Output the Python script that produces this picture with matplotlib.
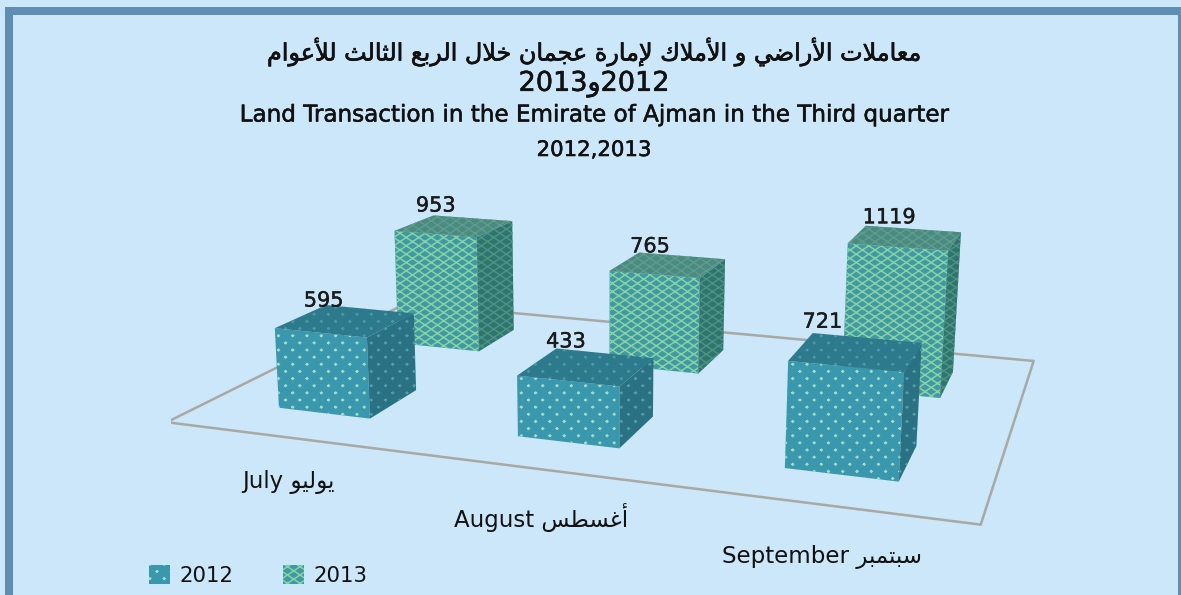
import numpy as np
import matplotlib
matplotlib.use('Agg')
import matplotlib.pyplot as plt
import matplotlib.hatch as mhatch
import matplotlib.patheffects as pe
from matplotlib.patches import Rectangle, Patch
from matplotlib.path import Path
from mpl_toolkits.mplot3d import proj3d
from mpl_toolkits.mplot3d.art3d import Poly3DCollection

W, H = 1181, 595
plt.rcParams['font.family'] = ['DejaVu Sans']

# ---- data ----
months_ar = ['يوليو', 'أغسطس', 'سبتمبر']
months_en = ['July', 'August', 'September']
series = ['2012', '2013']
v2012 = [595, 433, 721]
v2013 = [953, 765, 1119]
title_ar = 'معاملات الأراضي و الأملاك لإمارة عجمان خلال الربع الثالث للأعوام'
title_en = 'Land Transaction in the Emirate of Ajman in the Third quarter'

# ---- Arabic shaping (matplotlib does no shaping or bidi itself) ----
DUAL = {'ئ':0xFE89,'ب':0xFE8F,'ت':0xFE95,'ث':0xFE99,'ج':0xFE9D,'ح':0xFEA1,'خ':0xFEA5,'س':0xFEB1,'ش':0xFEB5,
        'ص':0xFEB9,'ض':0xFEBD,'ط':0xFEC1,'ظ':0xFEC5,'ع':0xFEC9,'غ':0xFECD,'ف':0xFED1,'ق':0xFED5,'ك':0xFED9,
        'ل':0xFEDD,'م':0xFEE1,'ن':0xFEE5,'ه':0xFEE9,'ي':0xFEF1}
RIGHT = {'آ':0xFE81,'أ':0xFE83,'ؤ':0xFE85,'إ':0xFE87,'ا':0xFE8D,'ة':0xFE93,'د':0xFEA9,'ذ':0xFEAB,'ر':0xFEAD,
         'ز':0xFEAF,'و':0xFEED,'ى':0xFEEF}
LAM = {'آ':0xFEF5,'أ':0xFEF7,'إ':0xFEF9,'ا':0xFEFB}

def ar(s):
    out = []; i = 0; prev = False
    while i < len(s):
        c = s[i]
        if c == 'ل' and i + 1 < len(s) and s[i + 1] in LAM:
            out.append(chr(LAM[s[i + 1]] + (1 if prev else 0))); prev = False; i += 2; continue
        nxt = s[i + 1] if i + 1 < len(s) else ' '
        nj = nxt in DUAL or nxt in RIGHT
        if c in DUAL:
            out.append(chr(DUAL[c] + (3 if prev and nj else 1 if prev else 2 if nj else 0))); prev = nj
        elif c in RIGHT:
            out.append(chr(RIGHT[c] + (1 if prev else 0))); prev = False
        else:
            out.append(c); prev = False
        i += 1
    return ''.join(reversed(out))

# ---- squashed hatch patterns of the reference ('o' dots, 'O' diamond lattice) ----
class WideDots(mhatch.HatchPatternBase):
    NX, NY = 7, 14
    R = 0.008
    def __init__(self, hatch, density):
        self.on = hatch.count('o') > 0
        self.pts = []
        if self.on:
            for r in range(self.NY + 1):
                shift = 0.5 if r % 2 else 0.0
                for c in range(-1, self.NX + 1):
                    self.pts.append(((c + shift) / self.NX, r / self.NY))
        self.num_vertices = len(self.pts) * 5
    def set_vertices_and_codes(self, vertices, codes):
        if self.on:
            r = self.R
            k = 0
            for (x, y) in self.pts:
                vertices[k:k + 5] = [(x - r, y), (x, y + r), (x + r, y), (x, y - r), (x - r, y)]
                codes[k:k + 5] = [Path.MOVETO, Path.LINETO, Path.LINETO, Path.LINETO, Path.LINETO]
                k += 5

class Lattice(mhatch.HatchPatternBase):
    NX, NY = 8, 12
    def __init__(self, hatch, density):
        self.on = hatch.count('O') > 0
        self.num_vertices = (self.NX * self.NY * 4) if self.on else 0
    def set_vertices_and_codes(self, vertices, codes):
        if self.on:
            k = 0
            for i in range(self.NX):
                for j in range(self.NY):
                    a, b = i / self.NX, (i + 1) / self.NX
                    c, d = j / self.NY, (j + 1) / self.NY
                    vertices[k:k + 4] = [(a, c), (b, d), (a, d), (b, c)]
                    codes[k:k + 4] = [Path.MOVETO, Path.LINETO, Path.MOVETO, Path.LINETO]
                    k += 4

mhatch._hatch_types[:] = [WideDots, Lattice]

# ---- figure and frame ----
LIGHT = '#CBE7F9'
BAND = '#5F8DB3'
fig = plt.figure(figsize=(W / 100, H / 100), dpi=100, facecolor=LIGHT)
fig.patches.append(Rectangle((5 / W, 0), (W - 5) / W, (H - 7) / H, transform=fig.transFigure,
                             fc=BAND, ec='none', zorder=-6))
fig.patches.append(Rectangle((13 / W, 0), (1178 - 13) / W, (H - 15) / H, transform=fig.transFigure,
                             fc=LIGHT, ec='none', zorder=-5))

# ---- 3D axes ----
ax = fig.add_axes([0, 0, 1, 1], projection='3d', computed_zorder=False)
ax.set_xlim3d(0, 3); ax.set_ylim3d(0, 2); ax.set_zlim3d(0, 1400)
ax.view_init(13.8440, -71.1693, -0.3055)
ax.set_proj_type('persp', focal_length=0.3193)
ax.set_box_aspect((3.1502, 2.0642, 0.7860))
A, CX, CY = 4842.035, 630.86, 295.73
vx0, vx1 = ax.viewLim.intervalx
vy0, vy1 = ax.viewLim.intervaly
ax.set_position([(CX + A * vx0) / W, (CY + A * vy0) / H, A * (vx1 - vx0) / W, A * (vy1 - vy0) / H])
ax.patch.set_alpha(0); ax.set_axis_off()
M = ax.get_proj()

BW, BD = 0.3936, 0.3934
XC = [0.4971, 1.4971, 2.4971]
YC = [0.4974, 1.5104]

ax.plot([0, 3, 3, 0, 0], [0, 0, 2, 2, 0], [0] * 5, color='#A8A8A4', lw=1.8, zorder=1)

# (front, right, top) face colour and hatch colour per series
FACE = [['#3A98AE', '#2A7184', '#2C7A8C'], ['#3F9AA6', '#2F7470', '#4A8A80']]
HCOL = [['#A5DCBC', '#4F9EA8', '#4B97A4'], ['#8AD4A0', '#4C9480', '#5E9C8C']]
HATCH = ['o', 'O']
plt.rcParams['hatch.linewidth'] = 1.05

def bar_faces(x, y, v):
    x0, x1 = x - BW / 2, x + BW / 2
    y0, y1 = y - BD / 2, y + BD / 2
    front = [(x0, y0, 0), (x1, y0, 0), (x1, y0, v), (x0, y0, v)]
    right = [(x1, y0, 0), (x1, y1, 0), (x1, y1, v), (x1, y0, v)]
    top = [(x0, y0, v), (x1, y0, v), (x1, y1, v), (x0, y1, v)]
    return front, right, top

LABEL_DX = [[-0.03, 0.10, 0.09], [0.03, 0.13, 0.25]]
LABEL_DZ = [[-45, -15, 15], [0, -25, 0]]
for j, vs in enumerate([v2012, v2013]):
    for i, v in enumerate(vs):
        for f, poly in enumerate(bar_faces(XC[i], YC[j], v)):
            plt.rcParams['hatch.color'] = HCOL[j][f]
            col = Poly3DCollection([poly], facecolors=FACE[j][f], edgecolors='none', hatch=HATCH[j],
                                   zorder=10 - 5 * j)
            ax.add_collection3d(col, autolim=False)
        X, Y, _ = proj3d.proj_transform(XC[i] - BW / 2 + BW * LABEL_DX[j][i], YC[j] + BD / 2,
                                        v + LABEL_DZ[j][i], M)
        lab = ax.text2D(float(X), float(Y), str(v), transform=ax.transData, ha='center', va='bottom',
                        fontsize=15, zorder=20, color='#1a1a1a')
        lab.set_path_effects([pe.withStroke(linewidth=0.3, foreground='#1a1a1a')])

def put(px, py, s, heavy=0.0, **k):
    t = fig.text(px / W, 1 - py / H, s, ha='center', va='center', color='#111111', **k)
    if heavy:
        t.set_path_effects([pe.withStroke(linewidth=heavy, foreground='#111111')])

put(594, 52, ar(title_ar), heavy=0.5, fontsize=17.2)
put(594, 84, '2013' + ar('و') + '2012', heavy=0.4, fontsize=19.5)
put(594, 115, title_en, heavy=0.4, fontsize=16.6)
put(594, 150, '2012,2013', heavy=0.4, fontsize=15.3)
put(288, 482, months_en[0] + ' ' + ar(months_ar[0]), fontsize=16.5)
put(541, 517, months_en[1] + ' ' + ar(months_ar[1]), fontsize=16.5)
put(822, 557, months_en[2] + ' ' + ar(months_ar[2]), fontsize=16.5)

plt.rcParams['hatch.color'] = HCOL[0][0]
handles = [Patch(facecolor=FACE[k][0], edgecolor=HCOL[k][0], hatch=HATCH[k], lw=0, label=series[k]) for k in range(2)]
fig.legend(handles=handles, loc='lower left', bbox_to_anchor=(149 / W, 1 - 586 / H), ncol=2, frameon=False,
           fontsize=15.3, handlelength=1.0, handleheight=1.0, handletextpad=0.45, columnspacing=2.3,
           borderpad=0, borderaxespad=0, labelcolor='#111111')

fig.savefig('out.png', dpi=100, facecolor=fig.get_facecolor())
